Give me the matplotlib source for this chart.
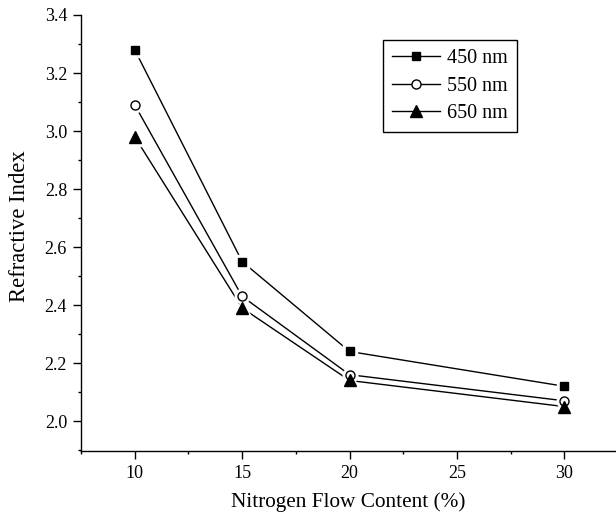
import matplotlib
matplotlib.use("Agg")
import matplotlib.pyplot as plt
from matplotlib.ticker import MultipleLocator, FormatStrFormatter

plt.rcParams['font.family'] = ['Liberation Serif', 'DejaVu Serif']

nitrogen = [10, 15, 20, 30]
n450 = [3.28, 2.55, 2.24, 2.12]
n550 = [3.09, 2.43, 2.16, 2.07]
n650 = [2.98, 2.39, 2.14, 2.05]
labels = ['450 nm', '550 nm', '650 nm']

fig = plt.figure(figsize=(6.16, 5.15), dpi=100)
ax = fig.add_axes([0.1315, 0.1243, 0.8685, 0.8466])

styles = [
    dict(marker='s', ms=5.5, mfc='black', mec='black'),
    dict(marker='o', ms=6.5, mfc='white', mec='black', mew=1.0),
    dict(marker='^', ms=8.5, mfc='black', mec='black'),
]
for ys, lab, st in zip([n450, n550, n650], labels, styles):
    ax.plot(nitrogen, ys, color='black', lw=1.0, zorder=2)
    # white halo to create the small gap between line and marker
    ax.plot(nitrogen, ys, ls='none', marker=st['marker'], ms=st['ms'] + 4,
            mfc='white', mec='white', zorder=3)
    ax.plot(nitrogen, ys, ls='none', zorder=4, **st)
    ax.plot([], [], color='black', lw=1.0, label=lab, **st)

ax.set_xlim(7.5, 32.4)
ax.set_ylim(1.897, 3.4)
ax.xaxis.set_major_locator(MultipleLocator(5))
ax.xaxis.set_minor_locator(MultipleLocator(2.5))
ax.yaxis.set_major_locator(MultipleLocator(0.2))
ax.yaxis.set_minor_locator(MultipleLocator(0.1))
ax.yaxis.set_major_formatter(FormatStrFormatter('%.1f'))

for s in ['top', 'right']:
    ax.spines[s].set_visible(False)
for s in ['left', 'bottom']:
    ax.spines[s].set_linewidth(1.0)
ax.tick_params(which='major', direction='out', length=5.5, width=1.0,
               labelsize=13, pad=4.5)
ax.tick_params(which='minor', direction='out', length=2.5, width=1.0)

ax.set_xlabel('Nitrogen Flow Content (%)', fontsize=15.3)
ax.set_ylabel('Refractive Index', fontsize=16.3)
ax.xaxis.set_label_coords(0.5, -0.094)
ax.yaxis.set_label_coords(-0.095, 0.516)

leg = ax.legend(loc='upper left', bbox_to_anchor=(0.5645, 0.943), fontsize=14.5,
                frameon=True, fancybox=False, edgecolor='black', framealpha=1,
                handlelength=2.4, handletextpad=0.35, borderpad=0.45,
                labelspacing=0.42, borderaxespad=0)
leg.get_frame().set_linewidth(1.0)

fig.savefig('out.png', dpi=100)
